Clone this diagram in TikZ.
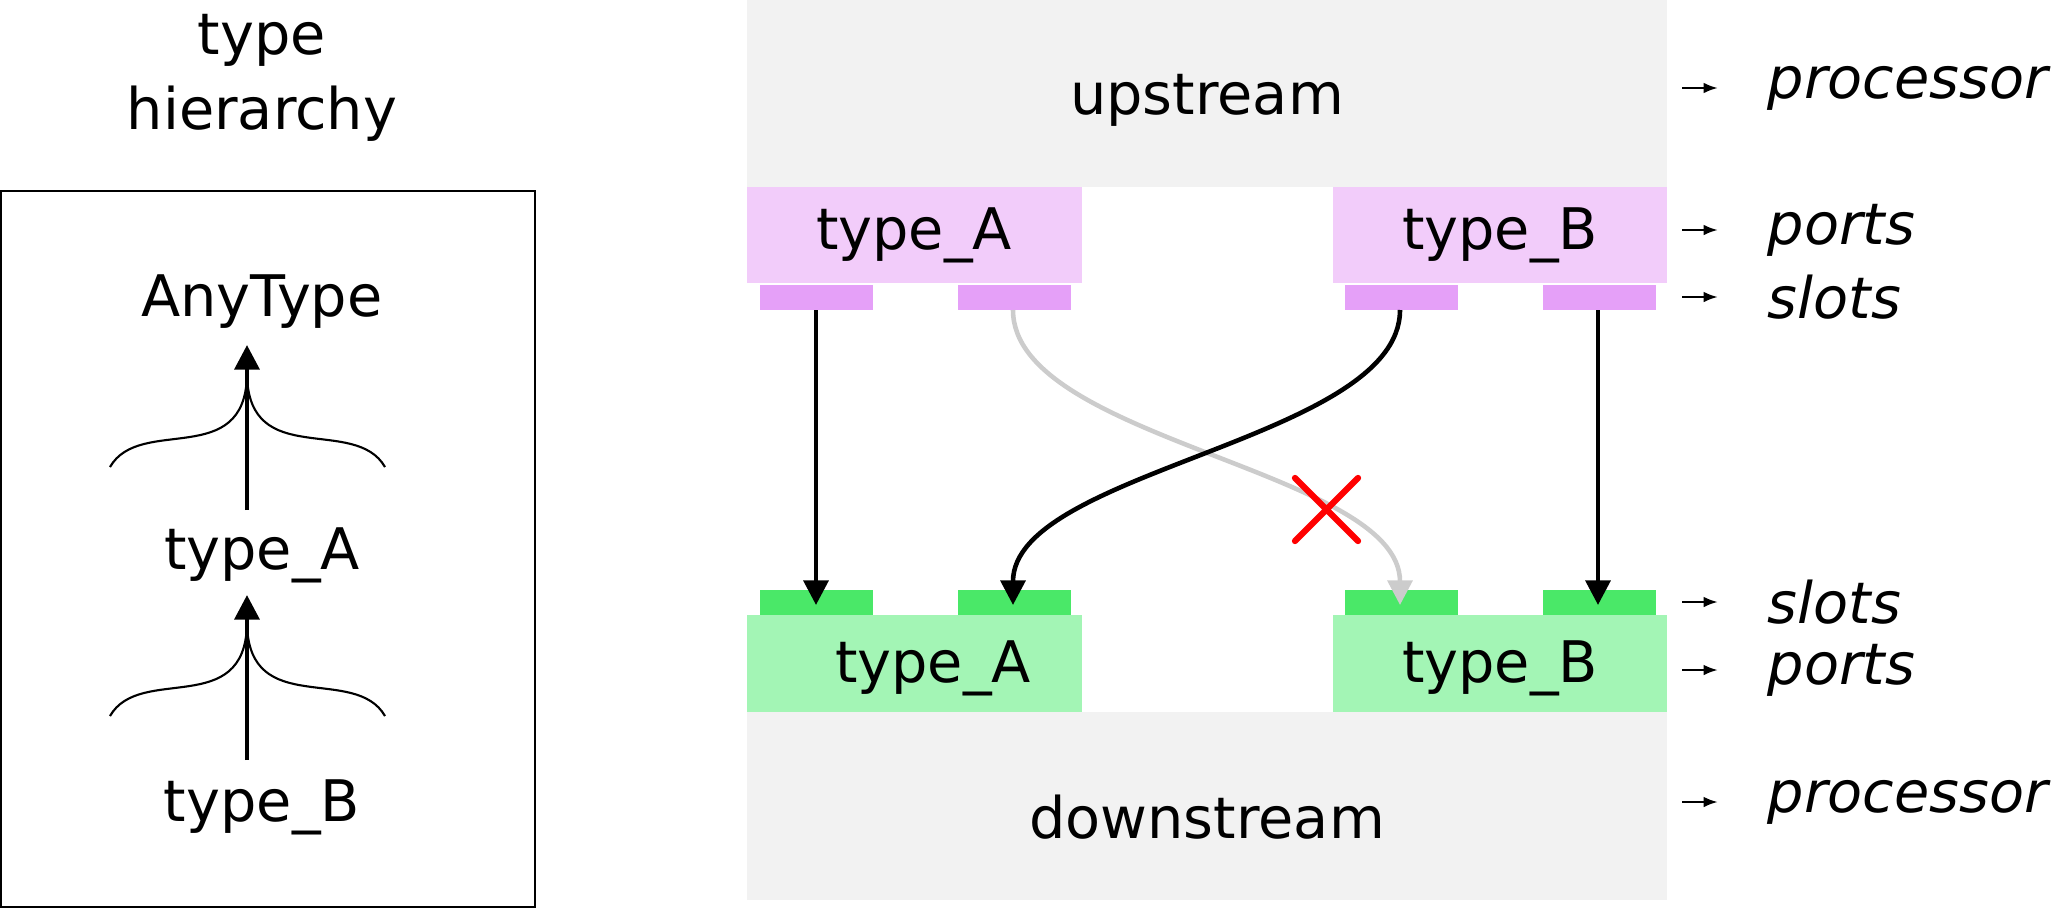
\documentclass[tikz,border=0pt]{standalone}
\usepackage{fontspec}
\setmainfont{DejaVu Sans}
\usetikzlibrary{arrows.meta,calc}
\begin{document}
\begin{tikzpicture}[x=0.01cm,y=-0.01cm,
  lbl/.style={font=\fontsize{16.3pt}{19pt}\selectfont,inner sep=0},
  rl/.style={font=\fontsize{16.3pt}{19pt}\selectfont\itshape,anchor=west,inner sep=0},
  conn/.style={line width=1.3pt,-{Triangle[length=7pt,width=7pt]}},
  side/.style={line width=0.6pt,-{Latex[length=4pt]}},
  brace/.style={line width=0.6pt}]
\definecolor{grayb}{HTML}{F2F2F2}
\definecolor{pinkp}{HTML}{F2CCFA}
\definecolor{pinks}{HTML}{E5A0F8}
\definecolor{greens}{HTML}{4AE868}
\definecolor{greenp}{HTML}{A3F5B5}
\useasboundingbox (0,0) rectangle (2054,909);
% left
\node[lbl] (t1) at (262,40) {type};
\node[lbl] (t2) at (262,114) {hierarchy};
\draw[line width=0.6pt] (1,191) rectangle (535,907);
\node[lbl] (any) at (262,302) {AnyType};
\node[lbl] (ta) at (262,555) {type\_A};
\node[lbl] (tb) at (262,807) {type\_B};
\draw[conn] (247,510) -- (247,345);
\draw[brace] (110,467) .. controls (140,415) and (245,470) .. (247,375) .. controls (249,470) and (355,415) .. (385,467);
\draw[conn] (247,760) -- (247,595);
\draw[brace] (110,716) .. controls (140,664) and (245,719) .. (247,624) .. controls (249,719) and (355,664) .. (385,716);
% middle
\fill[grayb] (747,0) rectangle (1667,187);
\node[lbl] (up) at (1207,100) {upstream};
\fill[pinkp] (747,187) rectangle (1082,283);
\fill[pinkp] (1333,187) rectangle (1667,283);
\node[lbl] (pa) at (914,235) {type\_A};
\node[lbl] (pb) at (1500,235) {type\_B};
\foreach \x in {760,958,1345,1543}{
  \fill[pinks] (\x,285) rectangle ++(113,25);
}
\fill[grayb] (747,712) rectangle (1667,900);
\node[lbl] (down) at (1207,817) {downstream};
\fill[greenp] (747,615) rectangle (1082,712);
\fill[greenp] (1333,615) rectangle (1667,712);
\node[lbl] (da) at (933,668) {type\_A};
\node[lbl] (db) at (1500,668) {type\_B};
\foreach \x in {760,958,1345,1543}{
  \fill[greens] (\x,590) rectangle ++(113,25);
}
\coordinate (u1) at (816,310); \coordinate (d1) at (816,605);
\coordinate (u2) at (1013,310); \coordinate (d3) at (1400,605);
\coordinate (u3) at (1400,310); \coordinate (d2) at (1013,605);
\coordinate (u4) at (1598,310); \coordinate (d4) at (1598,605);
\draw[conn,draw=black!20,-{Triangle[length=7pt,width=7pt,fill=black!20]}] (u2) .. controls (1013,440) and (1400,470) .. (d3);
\draw[conn] (u1) -- (d1);
\draw[conn] (u4) -- (d4);
\draw[conn] (u3) .. controls (1400,440) and (1013,470) .. (d2);
\draw[red,line width=1.8pt,line cap=round] (1295,478) -- (1358,541) (1358,478) -- (1295,541);
% right labels
\foreach \y/\t/\n in {88/processor/r1,230/ports/r2,297/slots/r3,602/slots/r4,670/ports/r5,802/processor/r6}{
  \coordinate (\n a) at (1682,\y);
  \node[rl] (\n) at (1767,\y) {\t};
  \draw[side] (\n a) -- ([xshift=-14]\n.west);
}
\end{tikzpicture}
\end{document}
